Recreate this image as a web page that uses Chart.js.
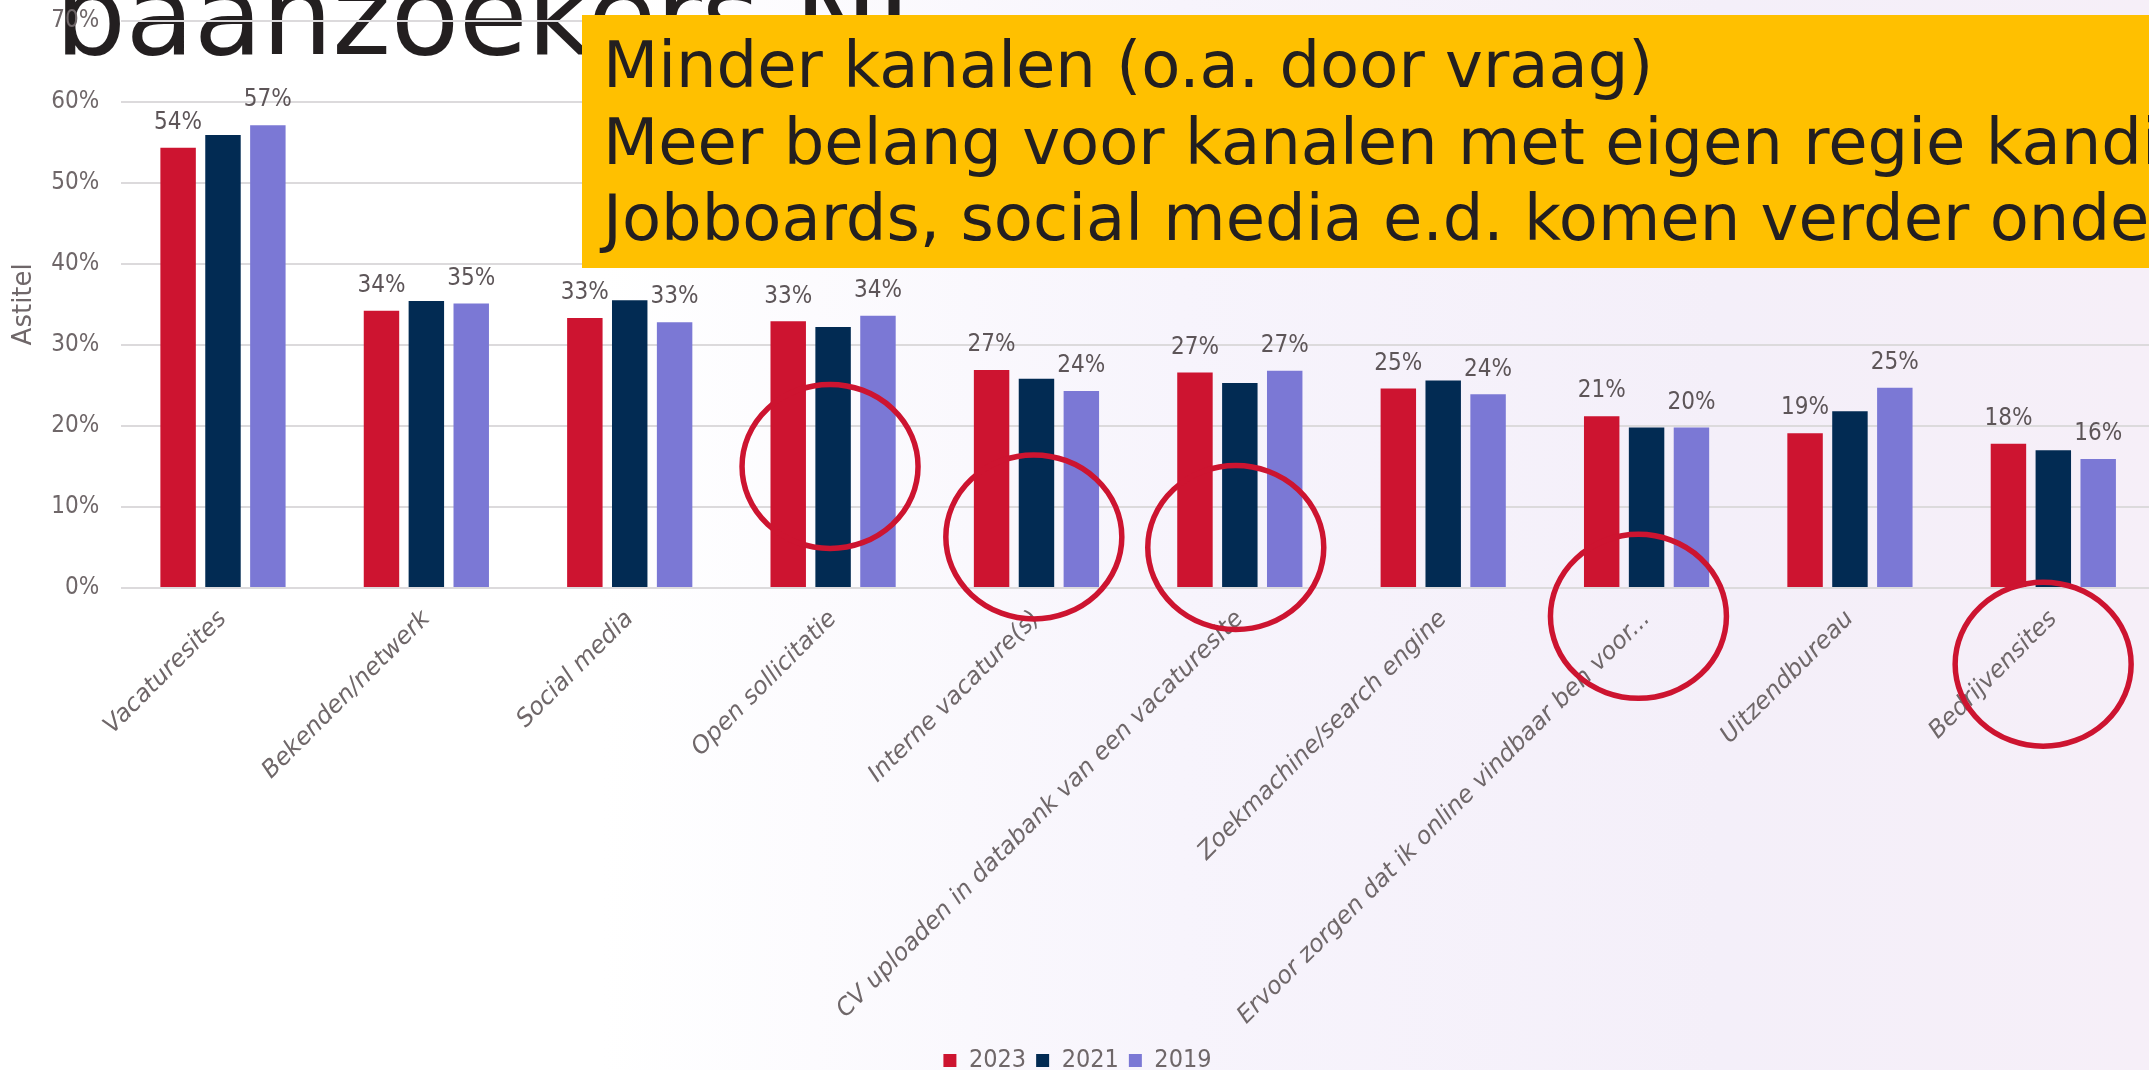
<!DOCTYPE html>
<html lang="nl">
<head>
<meta charset="utf-8">
<title>baanzoekers NL</title>
<script src="https://cdn.jsdelivr.net/npm/chart.js@4/dist/chart.umd.min.js"></script>
<style>
  html, body { margin: 0; padding: 0; }
  body { width: 2149px; height: 1070px; overflow: hidden; position: relative;
    background: linear-gradient(90deg, #ffffff 0%, #ffffff 28%, #f7f4fc 55%, #f4eff9 80%, #f6eff8 100%); }
  .ttl { position: absolute; left: 55px; top: -41px; z-index: 1; font: 112px/112px "DejaVu Sans", sans-serif;
    color: #231f20; letter-spacing: -0.5px; white-space: nowrap; }
  .wrap { position: absolute; left: 0; top: 0; width: 2160px; height: 1083px; z-index: 2; }
  .box { position: absolute; left: 582px; top: 15px; width: 1620px; height: 253px; z-index: 3; background: #ffc000;
    box-sizing: border-box; padding: 12px 0 0 21px; overflow: hidden; white-space: nowrap;
    font: 64px/76.5px "DejaVu Sans", sans-serif; color: #231f20; }
</style>
</head>
<body>
<div class="ttl">baanzoekers NL</div>
<div class="wrap"><canvas id="c"></canvas></div>
<div class="box">Minder kanalen (o.a. door vraag)<br>Meer belang voor kanalen met eigen regie kandidaat<br>Jobboards, social media e.d. komen verder onder druk</div>
<script>
// kanalen die baanzoekers gebruiken, aandeel per meting
const categories = ["Vacaturesites", "Bekenden/netwerk", "Social media", "Open sollicitatie", "Interne vacature(s)",
  "CV uploaden in databank van een vacaturesite", "Zoekmachine/search engine",
  "Ervoor zorgen dat ik online vindbaar ben voor...", "Uitzendbureau", "Bedrijvensites"];
const years = ["2023", "2021", "2019"];
const v2023 = [54.3, 34.2, 33.3, 32.9, 26.9, 26.6, 24.6, 21.2, 19.1, 17.8];
const v2021 = [55.9, 35.4, 35.5, 32.2, 25.8, 25.3, 25.6, 19.8, 21.8, 17.0];
const v2019 = [57.1, 35.1, 32.8, 33.6, 24.3, 26.8, 23.9, 19.8, 24.7, 15.9];
const yTicks = [0, 10, 20, 30, 40, 50, 60, 70];
const yTitle = "Astitel";
// omcirkelde plekken: categorie-index en hoogte in %
const ringCat = [2.985, 3.987, 4.98, 6.96, 8.95];
const ringVal = [15.0, 6.3, 5.0, -3.5, -9.4];

const RED = "#cd1430", NAVY = "#022b53", LAV = "#7b78d5", GREY = "#6f6769";
const COND = "'DejaVu Sans Condensed', 'Liberation Sans Narrow', 'DejaVu Sans', sans-serif";
const labelled = [0, 2]; // alleen 2023 en 2019 krijgen een waarde

const barLabels = {
  id: "barLabels",
  afterDatasetsDraw(chart) {
    const ctx = chart.ctx;
    ctx.save();
    ctx.font = "24px " + COND; ctx.fillStyle = "#5d5558"; ctx.textAlign = "center"; ctx.textBaseline = "bottom";
    labelled.forEach((di) => {
      chart.getDatasetMeta(di).data.forEach((b, i) => {
        ctx.fillText(Math.round(chart.data.datasets[di].data[i]) + "%", b.x, b.y - 13);
      });
    });
    ctx.restore();
  }
};

const rings = {
  id: "rings",
  afterDraw(chart) {
    const ctx = chart.ctx, x = chart.scales.x, y = chart.scales.y;
    ctx.save();
    ctx.strokeStyle = RED; ctx.lineWidth = 5.5;
    ringCat.forEach((c, i) => {
      ctx.beginPath();
      ctx.ellipse(x.getPixelForValue(c), y.getPixelForValue(ringVal[i]), 88, 82, 0, 0, Math.PI * 2);
      ctx.stroke();
    });
    ctx.restore();
  }
};

const ds = (label, data, color) => ({ label, data, backgroundColor: color, borderWidth: 0,
  categoryPercentage: 0.662, barPercentage: 0.79 });

new Chart(document.getElementById("c"), {
  type: "bar",
  data: { labels: categories, datasets: [ds(years[0], v2023, RED), ds(years[1], v2021, NAVY), ds(years[2], v2019, LAV)] },
  options: {
    responsive: true, maintainAspectRatio: false, animation: false, devicePixelRatio: 1,
    layout: { padding: { top: 20.6, right: 5, left: 0, bottom: 0 } },
    plugins: {
      tooltip: { enabled: false },
      legend: { position: "bottom", labels: { color: GREY, boxWidth: 13, boxHeight: 13, padding: 10, font: { size: 25, family: COND } } }
    },
    scales: {
      x: { grid: { display: false }, border: { display: false },
        ticks: { color: GREY, autoSkip: false, minRotation: 45, maxRotation: 45, padding: 9,
          font: { size: 24, style: "italic", family: "'DejaVu Sans', sans-serif" } },
        afterFit: (s) => { s.height = 450; } },
      y: { min: 0, max: 70, afterBuildTicks: (s) => { s.ticks = yTicks.map((v) => ({ value: v })); },
        grid: { color: "#dcdadc", lineWidth: 2, drawTicks: false }, border: { display: false },
        ticks: { color: GREY, padding: 22, font: { size: 24, family: COND }, callback: (v) => v + "%" },
        title: { display: true, text: yTitle, color: GREY, font: { size: 26, family: "'DejaVu Sans', sans-serif" }, padding: { top: 9, bottom: 4 } },
        afterFit: (s) => { s.width = 121.3; s.paddingTop = 0; s.paddingBottom = 0; } }
    }
  },
  plugins: [barLabels, rings]
});
</script>
</body>
</html>
